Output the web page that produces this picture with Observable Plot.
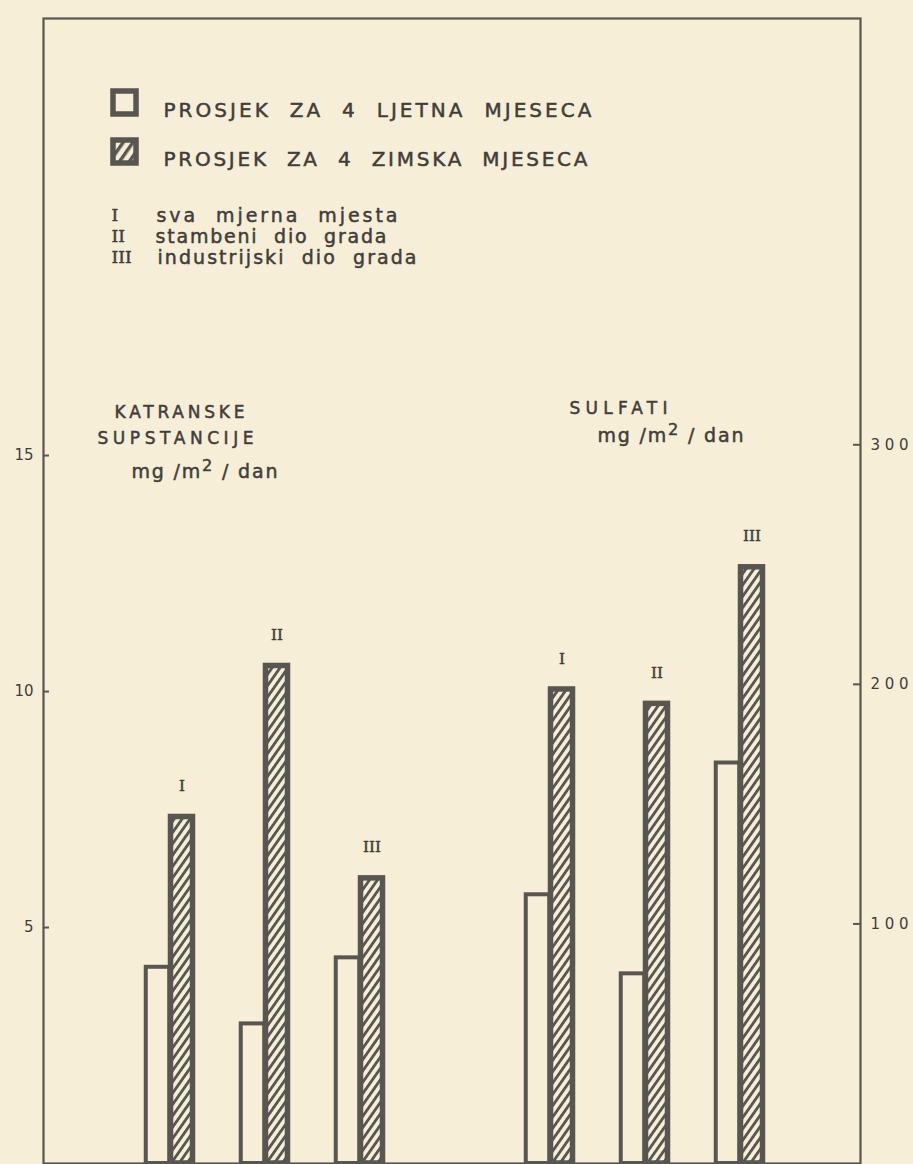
<!DOCTYPE html>
<html>
<head>
<meta charset="utf-8">
<script src="https://cdn.jsdelivr.net/npm/d3@7"></script>
<script src="https://cdn.jsdelivr.net/npm/@observablehq/plot@0.6"></script>
<style>
  html, body { margin: 0; padding: 0; background: #f6eed7; }
  #chart svg { display: block; background: #f6eed7; }
</style>
</head>
<body>
<div id="chart"></div>
<script>
// ---- data ----
const sites = ["I", "II", "III"];
const katranLjeto = [4.2, 3.0, 4.4];      // mg/m2/dan, summer average
const katranZima = [7.4, 10.6, 6.1];      // mg/m2/dan, winter average
const sulfatLjeto = [113, 80, 168];       // mg/m2/dan, summer average
const sulfatZima = [199, 193, 250];       // mg/m2/dan, winter average
const slots = ["K-I", "K-II", "K-III", "gap", "S-I", "S-II", "S-III"];
const leftTicks = [5, 10, 15];
const rightTicks = [100, 200, 300];
const legendLabels = ["PROSJEK  ZA  4  LJETNA  MJESECA", "PROSJEK  ZA  4  ZIMSKA  MJESECA"];
const siteNames = ["sva  mjerna  mjesta", "stambeni  dio  grada", "industrijski  dio  grada"];
const titleLeft = ["KATRANSKE", "SUPSTANCIJE", "mg /m² / dan"];
const titleRight = ["SULFATI", "mg /m² / dan"];

// sulfate axis (right) expressed in units of the left axis
const K = 19.7;

const summer = sites.map((s, i) => ({slot: "K-" + s, site: s, value: katranLjeto[i]}))
  .concat(sites.map((s, i) => ({slot: "S-" + s, site: s, value: sulfatLjeto[i] / K})));
const winter = sites.map((s, i) => ({slot: "K-" + s, site: s, value: katranZima[i]}))
  .concat(sites.map((s, i) => ({slot: "S-" + s, site: s, value: sulfatZima[i] / K})));

const ink = "#575650";
const textInk = "#3f3e3b";
const paper = "#f6eed7";
const sans = "DejaVu Sans, sans-serif";
const serif = "DejaVu Serif, serif";
const bold = {stroke: textInk, strokeWidth: 0.5};

const plot = Plot.plot({
  width: 913,
  height: 1164,
  marginLeft: 43,
  marginRight: 53,
  marginTop: 18,
  marginBottom: 1,
  style: {background: paper, color: textInk},
  x: {type: "band", domain: slots, paddingInner: 0, paddingOuter: 0.777, align: 0.507, axis: null},
  y: {domain: [0, 24.26]},
  marks: [
    // bars
    Plot.barY(summer, {x: "slot", y: "value", fill: paper, stroke: ink, strokeWidth: 4,
      insetLeft: 25.75, insetRight: 45.75, insetTop: 2}),
    Plot.barY(winter, {x: "slot", y: "value", fill: "url(#hatch)", stroke: ink, strokeWidth: 5.5,
      insetLeft: 50.5, insetRight: 22.5, insetTop: 2.75}),
    Plot.text(winter, {x: "slot", y: "value", text: "site", dx: 14, dy: -28,
      fontFamily: serif, fontSize: 15, fill: textInk, ...bold}),
    // frame and axes
    Plot.frame({stroke: ink, strokeWidth: 2.2}),
    Plot.axisY({ticks: leftTicks, tickSize: 0, tickPadding: 10, label: null,
      fontSize: 15, fontFamily: sans, fill: textInk}),
    Plot.tickY(leftTicks, {y: d => d, insetRight: 817 - 6, stroke: ink, strokeWidth: 2}),
    Plot.axisY({anchor: "right", ticks: rightTicks.map(v => v / K), tickFormat: d => String(Math.round(d * K)),
      tickSize: 0, tickPadding: 10, label: null, fontSize: 15, fontFamily: sans, fill: textInk}),
    Plot.tickY(rightTicks, {y: d => d / K, insetLeft: 817 - 7, stroke: ink, strokeWidth: 2}),
    // legend swatches
    Plot.dot([0], {frameAnchor: "top-left", dx: 81, dy: 84, symbol: "square", r: 13,
      fill: paper, stroke: ink, strokeWidth: 5.5}),
    Plot.dot([0], {frameAnchor: "top-left", dx: 81, dy: 133, symbol: "square", r: 13,
      fill: "url(#hatchSmall)", stroke: ink, strokeWidth: 5.5}),
    // legend texts
    Plot.text([legendLabels[0]], {frameAnchor: "top-left", dx: 120, dy: 84, text: d => d,
      textAnchor: "start", fontFamily: sans, fontSize: 20, fill: textInk, ...bold}),
    Plot.text([legendLabels[1]], {frameAnchor: "top-left", dx: 120, dy: 133, text: d => d,
      textAnchor: "start", fontFamily: sans, fontSize: 20, fill: textInk, ...bold}),
    Plot.text(sites, {frameAnchor: "top-left", dx: 68, dy: 190, text: d => d,
      textAnchor: "start", fontFamily: serif, fontSize: 17, fill: textInk, ...bold,
      filter: (d, i) => i === 0}),
    Plot.text(sites, {frameAnchor: "top-left", dx: 68, dy: 211, text: d => d,
      textAnchor: "start", fontFamily: serif, fontSize: 17, fill: textInk, ...bold,
      filter: (d, i) => i === 1}),
    Plot.text(sites, {frameAnchor: "top-left", dx: 68, dy: 232, text: d => d,
      textAnchor: "start", fontFamily: serif, fontSize: 17, fill: textInk, ...bold,
      filter: (d, i) => i === 2}),
    Plot.text([siteNames[0]], {frameAnchor: "top-left", dx: 113, dy: 190, text: d => d,
      textAnchor: "start", fontFamily: sans, fontSize: 19, fill: textInk, ...bold}),
    Plot.text([siteNames[1]], {frameAnchor: "top-left", dx: 112, dy: 211, text: d => d,
      textAnchor: "start", fontFamily: sans, fontSize: 19, fill: textInk, ...bold}),
    Plot.text([siteNames[2]], {frameAnchor: "top-left", dx: 114, dy: 232, text: d => d,
      textAnchor: "start", fontFamily: sans, fontSize: 19, fill: textInk, ...bold}),
    // axis titles
    Plot.text([titleLeft[0]], {frameAnchor: "top-left", dx: 71, dy: 387, text: d => d,
      textAnchor: "start", fontFamily: sans, fontSize: 17, fill: textInk, ...bold}),
    Plot.text([titleLeft[1]], {frameAnchor: "top-left", dx: 54, dy: 413, text: d => d,
      textAnchor: "start", fontFamily: sans, fontSize: 17, fill: textInk, ...bold}),
    Plot.text([titleLeft[2]], {frameAnchor: "top-left", dx: 88, dy: 446, text: d => d,
      textAnchor: "start", fontFamily: sans, fontSize: 19, fill: textInk, ...bold}),
    Plot.text([titleRight[0]], {frameAnchor: "top-left", dx: 526, dy: 383, text: d => d,
      textAnchor: "start", fontFamily: sans, fontSize: 17, fill: textInk, ...bold}),
    Plot.text([titleRight[1]], {frameAnchor: "top-left", dx: 554, dy: 410, text: d => d,
      textAnchor: "start", fontFamily: sans, fontSize: 19, fill: textInk, ...bold})
  ]
});

document.getElementById("chart").appendChild(plot);

// ---- post-processing: patterns, letter spacing, superscripts ----
const svg = d3.select(plot);
const defs = svg.insert("defs", ":first-child");
function hatch(id, spacing, width) {
  const p = defs.append("pattern").attr("id", id).attr("patternUnits", "userSpaceOnUse")
    .attr("width", spacing).attr("height", spacing).attr("patternTransform", "rotate(35)");
  p.append("rect").attr("width", spacing).attr("height", spacing).attr("fill", paper);
  p.append("rect").attr("width", width).attr("height", spacing).attr("fill", ink);
}
hatch("hatch", 6.5, 2.8);
hatch("hatchSmall", 8, 3.4);

const lengths = new Map([
  [legendLabels[0], 428], [legendLabels[1], 424],
  [siteNames[0], 241], [siteNames[1], 231], [siteNames[2], 259],
  [titleLeft[0], 130], [titleLeft[1], 156],
  [titleRight[0], 98], ["300", 38], ["200", 38], ["100", 38]
]);
svg.selectAll("text").each(function() {
  const t = d3.select(this);
  const s = this.textContent;
  if (s.includes("²")) {
    const [a, b] = s.split("²");
    t.text(null);
    t.append("tspan").text(a);
    t.append("tspan").attr("dy", -7).attr("font-size", "0.85em").text("2");
    t.append("tspan").attr("dy", 7).text(b);
    t.attr("textLength", 146).attr("lengthAdjust", "spacing");
  } else if (lengths.has(s)) {
    t.attr("textLength", lengths.get(s)).attr("lengthAdjust", "spacing");
  }
});
</script>
</body>
</html>
